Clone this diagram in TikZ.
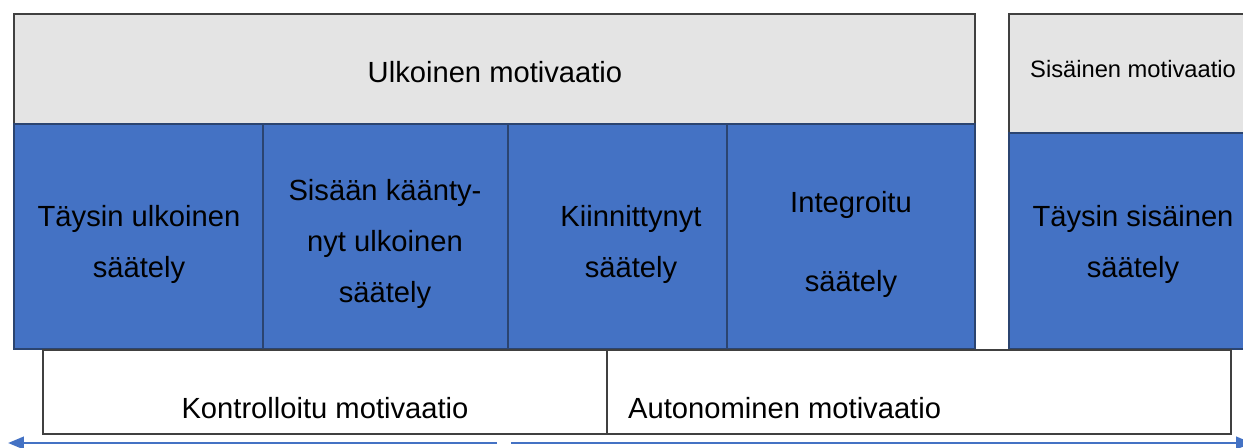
\documentclass[tikz,border=0pt]{standalone}
\usepackage{fontspec}
\setmainfont{Liberation Sans}
\usepackage{tikz}
\usetikzlibrary{arrows.meta,positioning}
\definecolor{cellblue}{HTML}{4472C4}
\definecolor{cellgray}{HTML}{E4E4E4}
\definecolor{edgegray}{HTML}{404040}
\definecolor{edgeblue}{HTML}{2B4470}
\tikzset{
  graybox/.style={fill=cellgray,draw=edgegray,line width=0.9pt},
  bluebox/.style={fill=cellblue,draw=edgeblue,line width=0.9pt},
  whitebox/.style={fill=white,draw=edgegray,line width=0.9pt},
  label/.style={align=center,font=\fontsize{16.6}{29}\selectfont},
  small label/.style={align=center,font=\fontsize{13.5}{16}\selectfont},
  scale arrow/.style={draw=cellblue,line width=1.5pt,-{Triangle[length=9pt,width=7pt]}}
}

\begin{document}
\begin{tikzpicture}[x=0.02cm,y=-0.02cm]
  % Page window
  \useasboundingbox (0,0) rectangle (1243,448);

  % Extrinsic motivation
  \draw[graybox] (14,14) rectangle (975,124);
  \draw[bluebox] (14,124) rectangle (263,349);
  \draw[bluebox] (263,124) rectangle (508,349);
  \draw[bluebox] (508,124) rectangle (727,349);
  \draw[bluebox] (727,124) rectangle (975,349);

  % Intrinsic motivation (runs over the right edge)
  \begin{scope}
    \clip (0,0) rectangle (1243,448);
    \draw[graybox] (1009,14) rectangle (1262,133);
    \draw[bluebox] (1009,133) rectangle (1262,349);
  \end{scope}

  % Controlled / autonomous
  \draw[whitebox] (43,350) rectangle (607,434);
  \draw[whitebox] (607,350) rectangle (1231,434);

  % Texts
  \node[label] (ext) at (495,72) {Ulkoinen motivaatio};
  \node[small label] (int) at (1133,69) {Sisäinen motivaatio};
  \node[label] (ext1) at (139,244) {Täysin ulkoinen\\säätely};
  \node[label] (ext2) at (385,244) {Sisään käänty-\\nyt ulkoinen\\säätely};
  \node[label] (ext3) at (631,244) {Kiinnittynyt\\säätely};
  \node[label] (ext4) at (851,244) {Integroitu\\[16pt]säätely};
  \node[label] (int1) at (1133,244) {Täysin sisäinen\\säätely};
  \node[label] (ctrl) at (325,408) {Kontrolloitu motivaatio};
  \node[label,anchor=west] (auto) at (622,408) {Autonominen motivaatio};

  % Scale arrows
  \coordinate (midl) at (497,443);
  \coordinate (midr) at (511,443);
  \coordinate (endl) at (8,443);
  \coordinate (endr) at (1252,443);
  \begin{scope}
    \clip (0,0) rectangle (1243,448);
    \draw[scale arrow] (midl) -- (endl);
    \draw[scale arrow] (midr) -- (endr);
  \end{scope}
\end{tikzpicture}
\end{document}
